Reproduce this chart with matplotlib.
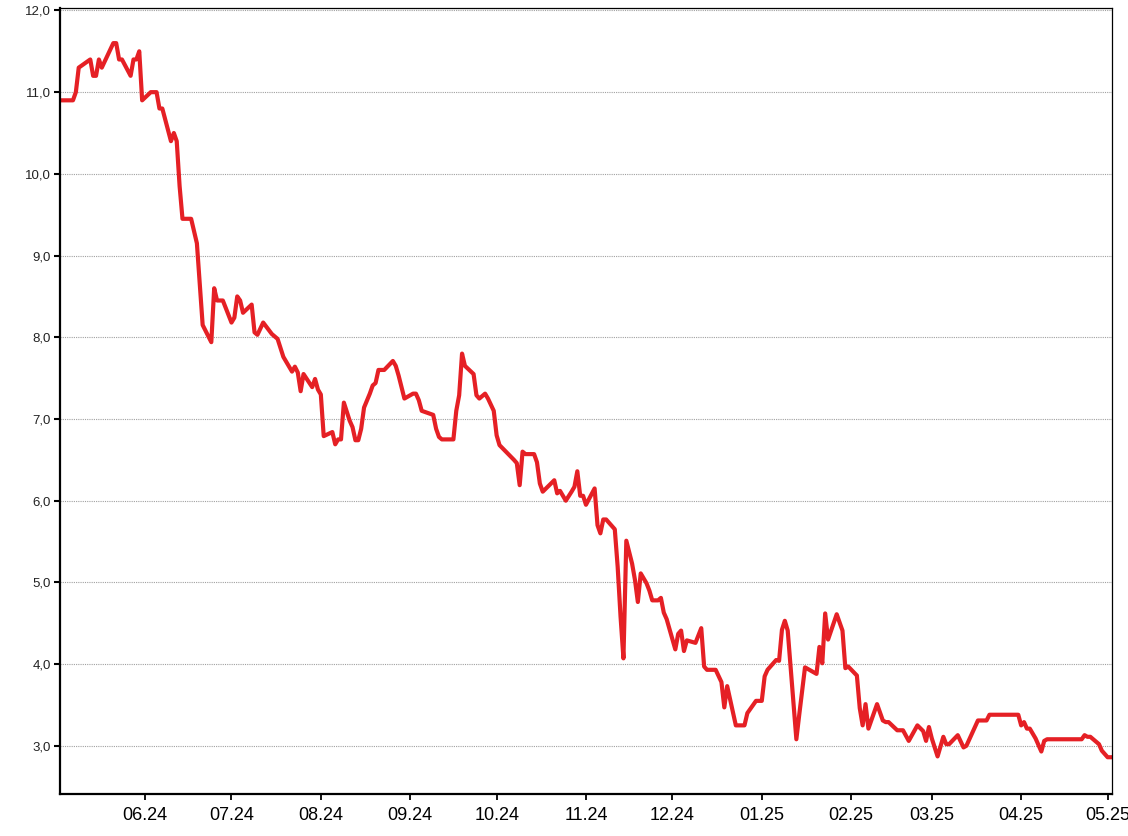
import pandas as pd
import matplotlib
matplotlib.use("Agg")
import matplotlib.pyplot as plt
import matplotlib.dates as mdates
from matplotlib.ticker import FuncFormatter, FixedLocator

plt.rcParams['font.family'] = ['Liberation Sans', 'DejaVu Sans']

# fechas y valores
dates = [
    "2024-05-02", "2024-05-07", "2024-05-08", "2024-05-09", "2024-05-13", "2024-05-14", "2024-05-15",
    "2024-05-16", "2024-05-17", "2024-05-21", "2024-05-22", "2024-05-23", "2024-05-24", "2024-05-27",
    "2024-05-28", "2024-05-29", "2024-05-30", "2024-05-31",
    "2024-06-03", "2024-06-05", "2024-06-06", "2024-06-07", "2024-06-10", "2024-06-11", "2024-06-12",
    "2024-06-13", "2024-06-14", "2024-06-17", "2024-06-19", "2024-06-21", "2024-06-24", "2024-06-25",
    "2024-06-26", "2024-06-28",
    "2024-07-01", "2024-07-02", "2024-07-03", "2024-07-04", "2024-07-05", "2024-07-08", "2024-07-09",
    "2024-07-10", "2024-07-12", "2024-07-15", "2024-07-17", "2024-07-19", "2024-07-22", "2024-07-23",
    "2024-07-24", "2024-07-25", "2024-07-26", "2024-07-29", "2024-07-30", "2024-07-31",
    "2024-08-01", "2024-08-02", "2024-08-05", "2024-08-06", "2024-08-07", "2024-08-08", "2024-08-09",
    "2024-08-11", "2024-08-12", "2024-08-13", "2024-08-14", "2024-08-15", "2024-08-16", "2024-08-18",
    "2024-08-19", "2024-08-20", "2024-08-21", "2024-08-23", "2024-08-26", "2024-08-27", "2024-08-28",
    "2024-08-30",
    "2024-09-02", "2024-09-03", "2024-09-04", "2024-09-05", "2024-09-09", "2024-09-10", "2024-09-11",
    "2024-09-12", "2024-09-16", "2024-09-17", "2024-09-18", "2024-09-19", "2024-09-20", "2024-09-23",
    "2024-09-24", "2024-09-25", "2024-09-27", "2024-09-28", "2024-09-30",
    "2024-10-01", "2024-10-02", "2024-10-07", "2024-10-08", "2024-10-09", "2024-10-10", "2024-10-11",
    "2024-10-14", "2024-10-15", "2024-10-16", "2024-10-17", "2024-10-21", "2024-10-22", "2024-10-23",
    "2024-10-25", "2024-10-27", "2024-10-28", "2024-10-29", "2024-10-30", "2024-10-31",
    "2024-11-01", "2024-11-04", "2024-11-05", "2024-11-06", "2024-11-07", "2024-11-08", "2024-11-11",
    "2024-11-12", "2024-11-13", "2024-11-14", "2024-11-15", "2024-11-17", "2024-11-18", "2024-11-19",
    "2024-11-20", "2024-11-22", "2024-11-23", "2024-11-24", "2024-11-26", "2024-11-27", "2024-11-28",
    "2024-11-29",
    "2024-12-02", "2024-12-03", "2024-12-04", "2024-12-05", "2024-12-06", "2024-12-09", "2024-12-11",
    "2024-12-12", "2024-12-13", "2024-12-16", "2024-12-18", "2024-12-19", "2024-12-20", "2024-12-23",
    "2024-12-26", "2024-12-27", "2024-12-30",
    "2025-01-01", "2025-01-02", "2025-01-03", "2025-01-06", "2025-01-07", "2025-01-08", "2025-01-09",
    "2025-01-10", "2025-01-13", "2025-01-14", "2025-01-16", "2025-01-20", "2025-01-21", "2025-01-22",
    "2025-01-23", "2025-01-24", "2025-01-27", "2025-01-29", "2025-01-30", "2025-01-31",
    "2025-02-03", "2025-02-04", "2025-02-05", "2025-02-06", "2025-02-07", "2025-02-10", "2025-02-12",
    "2025-02-13", "2025-02-14", "2025-02-17", "2025-02-19", "2025-02-21", "2025-02-24", "2025-02-26",
    "2025-02-27", "2025-02-28",
    "2025-03-01", "2025-03-03", "2025-03-05", "2025-03-06", "2025-03-07", "2025-03-10", "2025-03-12",
    "2025-03-13", "2025-03-17", "2025-03-18", "2025-03-20", "2025-03-21", "2025-03-31",
    "2025-04-01", "2025-04-02", "2025-04-03", "2025-04-04", "2025-04-06", "2025-04-07", "2025-04-08",
    "2025-04-09", "2025-04-10", "2025-04-22", "2025-04-23", "2025-04-24", "2025-04-25", "2025-04-28",
    "2025-04-29",
    "2025-05-01", "2025-05-02",
]

values = [
    10.9, 10.9, 11.0, 11.3, 11.4, 11.2, 11.2, 11.4, 11.3, 11.6, 11.6, 11.4, 11.4, 11.2, 11.4, 11.4, 11.5, 10.9,
    11.0, 11.0, 10.8, 10.8, 10.4, 10.5, 10.4, 9.85, 9.45, 9.45, 9.15, 8.15, 7.94, 8.6, 8.45, 8.45,
    8.18, 8.24, 8.5, 8.45, 8.3, 8.4, 8.06, 8.03, 8.18, 8.04, 7.98, 7.76, 7.58, 7.64, 7.57, 7.34, 7.55,
    7.39, 7.49, 7.36,
    7.3, 6.79, 6.84, 6.69, 6.75, 6.75, 7.2, 6.98, 6.9, 6.74, 6.74, 6.88, 7.14, 7.31, 7.41, 7.44, 7.6,
    7.6, 7.71, 7.65, 7.53, 7.25,
    7.31, 7.31, 7.23, 7.1, 7.05, 6.88, 6.78, 6.75, 6.75, 7.1, 7.29, 7.8, 7.65, 7.55, 7.29, 7.25, 7.31,
    7.25, 7.1,
    6.8, 6.68, 6.5, 6.46, 6.19, 6.6, 6.57, 6.57, 6.47, 6.21, 6.11, 6.25, 6.09, 6.12, 6.0, 6.11, 6.17,
    6.36, 6.06, 6.06,
    5.95, 6.15, 5.7, 5.6, 5.77, 5.77, 5.65, 5.19, 4.58, 4.07, 5.51, 5.23, 5.03, 4.76, 5.11, 4.99, 4.9,
    4.78, 4.78, 4.81, 4.63, 4.55,
    4.18, 4.37, 4.41, 4.16, 4.29, 4.26, 4.44, 3.97, 3.93, 3.93, 3.78, 3.47, 3.73, 3.25, 3.25, 3.4, 3.55,
    3.55, 3.85, 3.93, 4.05, 4.04, 4.42, 4.53, 4.41, 3.08, 3.38, 3.96, 3.88, 4.21, 4.01, 4.62, 4.3, 4.61,
    4.41, 3.95, 3.97,
    3.86, 3.46, 3.25, 3.51, 3.21, 3.51, 3.31, 3.29, 3.29, 3.19, 3.19, 3.06, 3.25, 3.18, 3.06, 3.23,
    3.09, 2.87, 3.11, 3.02, 3.02, 3.13, 2.98, 3.0, 3.31, 3.31, 3.31, 3.38, 3.38,
    3.25, 3.29, 3.21, 3.21, 3.09, 3.01, 2.93, 3.06, 3.08, 3.08, 3.13, 3.11, 3.11, 3.02, 2.94,
    2.86, 2.86,
]

month_ticks = pd.date_range("2024-06-01", "2025-05-01", freq="MS")
y_ticks = [3, 4, 5, 6, 7, 8, 9, 10, 11, 12]

fechas = pd.to_datetime(dates)

fig = plt.figure(figsize=(11.28, 8.36), dpi=100)
ax = fig.add_axes([60 / 1128, 1 - 794 / 836, (1111.7 - 60) / 1128, (794 - 8) / 836])

ax.plot(fechas, values, color="#e52025", lw=3)

ax.set_xlim(pd.Timestamp("2024-05-02 12:00"), pd.Timestamp("2025-05-02 10:00"))
ax.set_ylim(2.41, 12.03)

ax.xaxis.set_major_locator(FixedLocator(mdates.date2num(month_ticks)))
ax.xaxis.set_major_formatter(mdates.DateFormatter("%m.%y"))
ax.yaxis.set_major_locator(FixedLocator(y_ticks))
ax.yaxis.set_major_formatter(FuncFormatter(lambda v, p: f"{v:.1f}".replace(".", ",")))

ax.yaxis.grid(True, linestyle=(0, (1, 1)), color="#a0a0a0", lw=0.8)
ax.set_axisbelow(True)

for s in ["left", "bottom"]:
    ax.spines[s].set_linewidth(1.6)
for s in ["top", "right"]:
    ax.spines[s].set_linewidth(0.9)

ax.tick_params(axis="y", direction="out", length=4, width=1.5, labelsize=9.5, pad=2.5, labelcolor="#222222")
ax.tick_params(axis="x", direction="out", length=4, width=1.3, labelsize=13, pad=5)

fig.savefig("out.png", dpi=100)
